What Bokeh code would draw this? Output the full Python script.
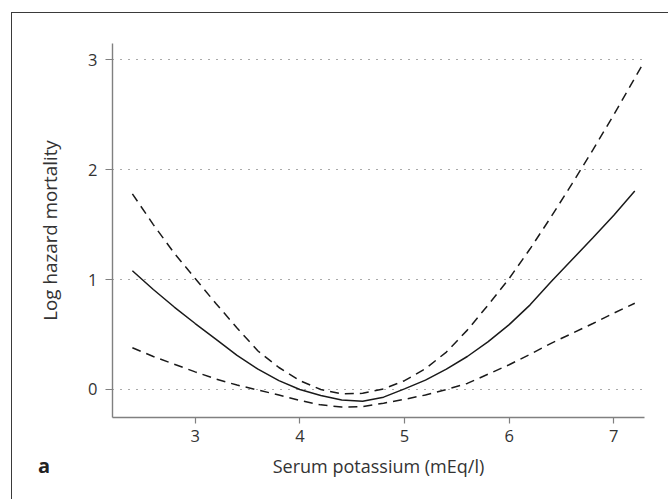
from bokeh.plotting import figure
from bokeh.embed import file_html
from bokeh.resources import INLINE
from bokeh.models import Range1d, FixedTicker, InlineStyleSheet, Div
from bokeh.layouts import column

# ---- data ----
potassium = [2.4, 2.6, 2.8, 3.0, 3.2, 3.4, 3.6, 3.8, 4.0, 4.2, 4.4, 4.6, 4.8,
             5.0, 5.2, 5.4, 5.6, 5.8, 6.0, 6.2, 6.4, 6.6, 6.8, 7.0, 7.2]
log_hazard = [1.08, 0.91, 0.75, 0.60, 0.455, 0.31, 0.185, 0.08, 0.0, -0.055, -0.095,
              -0.108, -0.07, 0.005, 0.085, 0.185, 0.30, 0.435, 0.59, 0.77, 0.98,
              1.18, 1.38, 1.585, 1.805]
lower_ci = [0.38, 0.30, 0.23, 0.16, 0.095, 0.04, -0.005, -0.05, -0.10, -0.14,
            -0.16, -0.155, -0.125, -0.09, -0.05, 0.0, 0.055, 0.14, 0.225, 0.32,
            0.42, 0.51, 0.60, 0.695, 0.785]
potassium_upper = [2.4, 2.6, 2.8, 3.0, 3.2, 3.4, 3.6, 3.8, 4.0, 4.2, 4.4, 4.6,
                   4.8, 5.0, 5.2, 5.4, 5.6, 5.8, 6.0, 6.2, 6.4, 6.6, 6.8, 7.0, 7.27]
upper_ci = [1.78, 1.50, 1.24, 1.01, 0.78, 0.56, 0.35, 0.20, 0.08, 0.0, -0.04,
            -0.035, 0.005, 0.08, 0.19, 0.34, 0.54, 0.77, 1.01, 1.28, 1.57, 1.87,
            2.18, 2.50, 2.95]
x_ticks = [3, 4, 5, 6, 7]
y_ticks = [0, 1, 2, 3]
x_title = "Serum potassium (mEq/l)"
y_title = "Log hazard mortality"
panel_letter = "a"

FONT = "Open Sans"
TXT = "#333333"
AX = "#808080"

p = figure(width=657, height=487, output_backend="svg", toolbar_location=None,
           x_range=Range1d(2.21, 7.293), y_range=Range1d(-0.255, 3.148),
           min_border_left=100, min_border_right=25, min_border_top=30,
           min_border_bottom=83)
p.margin = (12, 0, 0, 11)
p.stylesheets = [InlineStyleSheet(css=":host { border-top: 1.3px solid #3a3a3a; border-left: 1.3px solid #3a3a3a; }")]
p.outline_line_color = None
p.background_fill_color = "white"
p.border_fill_color = "white"

# grid
p.xgrid.grid_line_color = None
p.ygrid.ticker = FixedTicker(ticks=y_ticks)
p.ygrid.grid_line_color = "#555555"
p.ygrid.grid_line_width = 1.2
p.ygrid.grid_line_dash = "1 7"

for ax in (p.xaxis[0], p.yaxis[0]):
    ax.axis_line_color = AX
    ax.axis_line_width = 1.4
    ax.major_tick_line_color = AX
    ax.major_tick_line_width = 1.2
    ax.major_tick_in = 0
    ax.minor_tick_line_color = None
    ax.major_label_text_font = FONT
    ax.major_label_text_font_size = "16.5px"
    ax.major_label_text_color = TXT
    ax.axis_label_text_font = FONT
    ax.axis_label_text_color = TXT
    ax.axis_label_text_font_style = "normal"

p.xaxis.axis_label_text_font_size = "18px"
p.yaxis.axis_label_text_font_size = "18.8px"
p.xaxis.ticker = FixedTicker(ticks=x_ticks)
p.yaxis.ticker = FixedTicker(ticks=y_ticks)
p.xaxis.major_tick_out = 6
p.yaxis.major_tick_out = 7
p.xaxis.major_label_standoff = 6
p.yaxis.major_label_standoff = 8
p.xaxis.axis_label = x_title
p.yaxis.axis_label = y_title
p.xaxis.axis_label_standoff = 9
p.yaxis.axis_label_standoff = 22

p.line(potassium, log_hazard, line_color="#1a1a1a", line_width=1.5)
p.line(potassium, lower_ci, line_color="#1a1a1a", line_width=1.5, line_dash="9 6")
p.line(potassium_upper, upper_ci, line_color="#1a1a1a", line_width=1.5, line_dash="9 6")

letter = Div(text=panel_letter, styles={
    "position": "absolute", "left": "38px", "top": "452px",
    "font-family": "'Open Sans'", "font-weight": "bold", "font-size": "20px",
    "line-height": "normal", "color": "#222222", "margin": "0", "padding": "0"})

root = column(p, letter)
open("out.html", "w").write(file_html(root, INLINE))
